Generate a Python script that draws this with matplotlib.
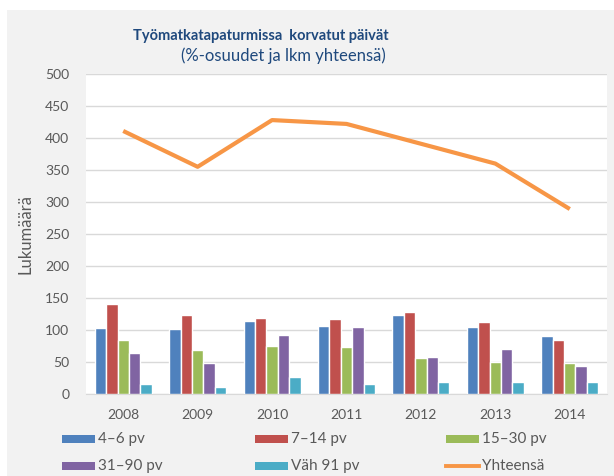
import numpy as np
import matplotlib
matplotlib.use('Agg')
import matplotlib.pyplot as plt
from matplotlib.patches import Rectangle
from matplotlib.lines import Line2D

plt.rcParams['font.family'] = ['Lato', 'DejaVu Sans']

# Data
years = ['2008', '2009', '2010', '2011', '2012', '2013', '2014']
series_names = ['4–6 pv', '7–14 pv', '15–30 pv', '31–90 pv', 'Väh 91 pv']
v_4_6 = [103, 102, 114, 107, 123, 104, 90]
v_7_14 = [140, 123, 118, 117, 128, 113, 84]
v_15_30 = [84, 68, 75, 73, 57, 50, 49]
v_31_90 = [64, 49, 92, 104, 58, 71, 43]
v_91 = [15, 11, 26, 16, 19, 18, 18]
total = [411, 355, 428, 422, 391, 360, 289]

colors = ['#4f81bd', '#c0504d', '#9bbb59', '#8064a2', '#4bacc6']
line_color = '#f79646'
text_gray = '#595959'
title_color = '#1f497d'

W, H = 614, 476
fig = plt.figure(figsize=(W / 100, H / 100), dpi=100)
fig.patch.set_facecolor('white')
fig.add_artist(Rectangle((7 / W, 0), 1 - 7 / W, 1 - 10 / H, transform=fig.transFigure,
                         facecolor='#f2f2f2', edgecolor='none', zorder=-10))

ax = fig.add_axes([86 / W, 1 - 394 / H, 521 / W, 320 / H])
ax.set_facecolor('white')

x = np.arange(len(years))
bw = 0.153
all_series = [v_4_6, v_7_14, v_15_30, v_31_90, v_91]
for i, vals in enumerate(all_series):
    ax.bar(x + (i - 2) * bw, vals, width=bw, color=colors[i],
           edgecolor='white', linewidth=1.0, zorder=3)
ax.plot(x, total, color=line_color, linewidth=3.0, zorder=4,
        solid_capstyle='butt')

ax.set_xlim(-0.5, len(years) - 0.5)
ax.set_ylim(0, 500)
ax.set_yticks(range(0, 501, 50))
ax.set_xticks(x)
ax.set_xticklabels(years)
ax.grid(axis='y', color='#d9d9d9', linewidth=1.0, zorder=0)
for s in ['top', 'right', 'left']:
    ax.spines[s].set_visible(False)
ax.spines['bottom'].set_color('#d9d9d9')
ax.tick_params(axis='both', length=0, labelsize=10, labelcolor=text_gray)
ax.tick_params(axis='y', pad=12)
ax.tick_params(axis='x', pad=11)
ax.set_ylabel('Lukumäärä', fontsize=12, color=text_gray, labelpad=8)

fig.text(261 / W, 1 - 36 / H, 'Työmatkatapaturmissa  korvatut päivät', ha='center', va='center',
         fontsize=10.5, fontweight='bold', color=title_color)
fig.text(283 / W, 1 - 56 / H, '(%-osuudet ja lkm yhteensä)', ha='center', va='center',
         fontsize=12, color=title_color)

# Legend, drawn by hand in three evenly spaced columns
col_x = [62, 255, 446]
row_y = [439, 466]
labels = series_names + ['Yhteensä']
for k, lab in enumerate(labels):
    cx = col_x[k % 3]
    cy = row_y[k // 3]
    if k < 5:
        fig.add_artist(Rectangle((cx / W, 1 - (cy + 4) / H), 33 / W, 8 / H,
                                 transform=fig.transFigure, facecolor=colors[k],
                                 edgecolor='none'))
    else:
        fig.add_artist(Line2D([cx / W, (cx + 33) / W], [1 - cy / H, 1 - cy / H],
                              transform=fig.transFigure, color=line_color, linewidth=2.8))
    fig.text((cx + 36) / W, 1 - cy / H, lab, ha='left', va='center',
             fontsize=11, color=text_gray)

fig.savefig('out.png', dpi=100, facecolor=fig.get_facecolor())
